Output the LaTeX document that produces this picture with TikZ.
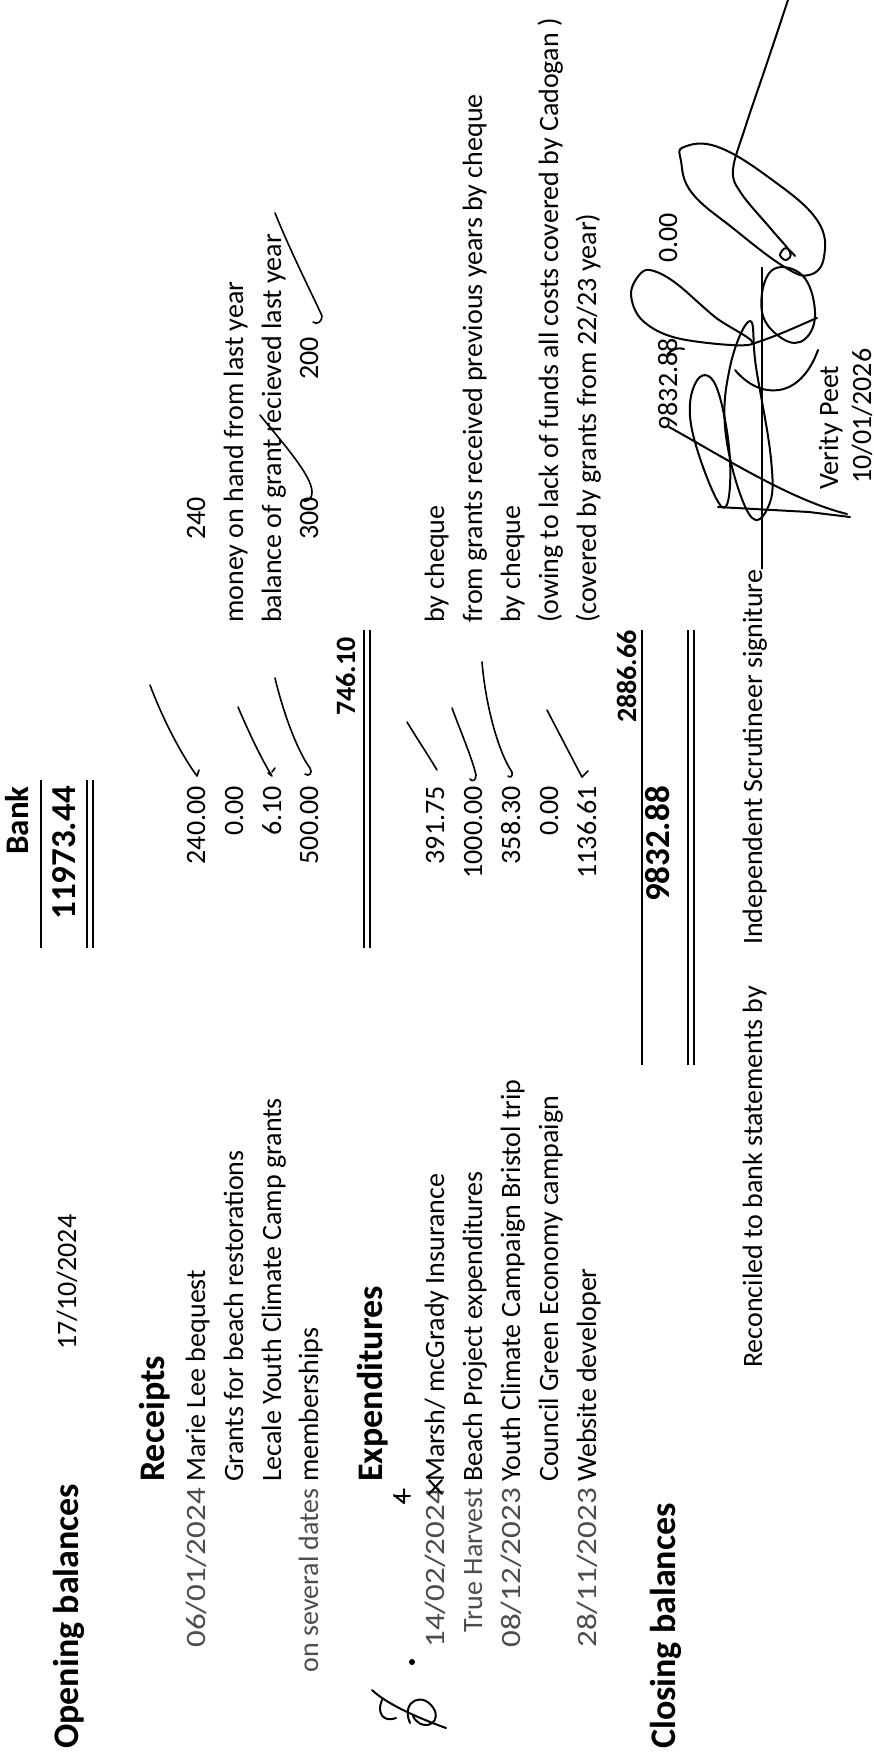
\documentclass[tikz,border=0pt]{standalone}
\usepackage{fontspec}
\setmainfont{Carlito}
\newfontfamily\datefont[FakeStretch=1.18]{Carlito}
\newcommand\bodysize{\fontsize{28}{30}\selectfont}
\begin{document}
\begin{tikzpicture}[x=1pt,y=-1pt,
  txt/.style={rotate=90, inner sep=0pt, font=\bodysize},
  L/.style={txt, anchor=base west},
  R/.style={txt, anchor=base east},
  dt/.style={R, font=\datefont\bodysize, text=black!70},
  lt/.style={R, font=\bodysize, text=black!70},
  hd/.style={rotate=90, inner sep=0pt, anchor=base west, font=\bfseries\fontsize{36}{38}\selectfont},
  tot/.style={rotate=90, inner sep=0pt, anchor=base east, font=\bfseries\fontsize{35}{37}\selectfont},
  sub/.style={R, font=\bfseries\bodysize},
  rule/.style={line width=2pt},
  tick/.style={line width=1.6pt, line cap=round, line join=round},
  ink/.style={line width=2pt, line cap=round, line join=round}]
\useasboundingbox (0,0) rectangle (874,1757);

% ---- opening ----
\node[hd] (ob) at (78,1749) {Opening balances};
\node[L] (obd) at (76,1350) {17/10/2024};
\node[R, font=\bfseries\fontsize{33}{35}\selectfont] (bank) at (28,786) {Bank};
\node[tot] (obamt) at (75,786) {11973.44};
\draw[rule] (41,780) -- (41,948);
\draw[rule] (87,780) -- (87,948);
\draw[rule] (93,780) -- (93,948);

% ---- receipts ----
\node[hd] (rc) at (164,1482) {Receipts};
\node[dt] (r1d) at (205,1488) {06/01/2024};
\node[L] (r1l) at (205,1482) {Marie Lee bequest};
\node[R] (r1n) at (205,786) {240.00};
\node[L] (r1x) at (205,540) {240};
\node[L] (r2l) at (243,1482) {Grants for beach restorations};
\node[R] (r2n) at (243,786) {0.00};
\node[L] (r2x) at (243,623) {money on hand from last year};
\node[L] (r3l) at (281,1482) {Lecale Youth Climate Camp grants};
\node[R] (r3n) at (281,786) {6.10};
\node[L] (r3x) at (281,623) {balance of grant recieved last year};
\node[lt] (r4d) at (318,1488) {on several dates};
\node[L] (r4l) at (318,1482) {memberships};
\node[R] (r4n) at (318,786) {500.00};
\node[L] (r4a) at (318,540) {300};
\node[L] (r4b) at (318,380) {200};
\node[sub] (rtot) at (355,637) {746.10};
\draw[rule] (364,630) -- (364,948);
\draw[rule] (370,630) -- (370,948);

% ---- expenditures ----
\node[hd] (ex) at (382,1482) {Expenditures};
\node[dt] (e1d) at (444,1488) {14/02/2024};
\node[L] (e1l) at (444,1482) {Marsh/ mcGrady Insurance};
\node[R] (e1n) at (444,786) {391.75};
\node[L] (e1x) at (444,623) {by cheque};
\node[lt] (e2d) at (482,1488) {True Harvest};
\node[L] (e2l) at (482,1482) {Beach Project expenditures};
\node[R] (e2n) at (482,786) {1000.00};
\node[L] (e2x) at (482,623) {from grants received previous years by cheque};
\node[dt] (e3d) at (520,1488) {08/12/2023};
\node[L] (e3l) at (520,1482) {Youth Climate Campaign Bristol trip};
\node[R] (e3n) at (520,786) {358.30};
\node[L] (e3x) at (520,623) {by cheque};
\node[L] (e4l) at (558,1482) {Council Green Economy campaign};
\node[R] (e4n) at (558,786) {0.00};
\node[L] (e4x) at (558,623) {(owing to lack of funds all costs covered by Cadogan )};
\node[dt] (e5d) at (596,1488) {28/11/2023};
\node[L] (e5l) at (596,1482) {Website developer};
\node[R] (e5n) at (596,786) {1136.61};
\node[L] (e5x) at (596,623) {(covered by grants from 22/23 year)};
\node[sub] (etot) at (636,630) {2886.66};
\draw[rule] (642,630) -- (642,1065);

% ---- closing ----
\node[hd] (cb) at (675,1749) {Closing balances};
\node[tot] (cbamt) at (669,786) {9832.88};
\draw[rule] (688,630) -- (688,1065);
\draw[rule] (694,630) -- (694,1065);

% ---- reconciliation ----
\node[L] (rec) at (762,1368) {Reconciled to bank statements by};
\node[L] (ind) at (762,945) {Independent Scrutineer signiture};
\coordinate (sigend) at (762,267);
\draw[line width=1.4pt] (ind.base east) -- (sigend);
\node[L] (vp) at (838,490) {Verity Peet};
\node[L] (vd) at (871,484) {10/01/2026};
\node[R] (s1) at (677,338) {9832.88};
\node[R] (s0) at (677,213) {0.00};

% ---- ticks ----
\draw[tick] (150,685) .. controls (165,725) and (185,760) .. (197,776) -- (199,770);
\draw[tick] (238,707) .. controls (250,735) and (262,760) .. (272,776) -- (268,773);
\draw[tick] (272,772) -- (275,768);
\draw[tick] (275,678) .. controls (285,720) and (300,755) .. (310,768) .. controls (313,773) and (309,777) .. (305,774);
\draw[tick] (260,415) .. controls (280,440) and (312,475) .. (312,492) .. controls (312,500) and (306,503) .. (302,500);
\draw[tick] (275,213) .. controls (292,255) and (315,300) .. (322,316) .. controls (322,322) and (317,325) .. (313,322);
\draw[tick] (407,722) .. controls (418,740) and (428,755) .. (437,770);
\draw[tick] (452,708) .. controls (462,735) and (472,758) .. (476,775) .. controls (476,781) and (472,782) .. (470,779);
\draw[tick] (482,662) .. controls (486,710) and (500,755) .. (512,772) .. controls (513,777) and (510,778) .. (508,776);
\draw[tick] (547,710) .. controls (560,735) and (573,760) .. (582,777) -- (588,771);

% ---- handwritten corrections ----
\draw[ink] (394,1495) -- (404,1503) -- (404,1489);
\draw[ink] (394,1496) -- (410,1496);
\draw[ink] (429,1480) -- (442,1494);
\draw[ink] (429,1494) -- (442,1480);

% ---- initials at left ----
\draw[ink] (372,1690) .. controls (389,1706) and (424,1720) .. (446,1728);
\draw[ink] (410,1723) .. controls (400,1700) and (425,1690) .. (435,1711) .. controls (440,1726) and (420,1731) .. (413,1716);
\draw[ink] (382,1700) .. controls (376,1713) and (384,1723) .. (396,1718);
\fill (412,1662) circle (3);

% ---- signature scribble ----
\draw[ink] plot[smooth, tension=0.6] coordinates {(788,0) (768,60) (745,128) (733,170) (741,193) (771,229) (790,252) (786,260) (780,255) (786,248) (795,256)};
\draw[ink] plot[smooth cycle, tension=0.7] coordinates {(684,147) (718,147) (771,179) (817,220) (824,257) (809,275) (783,266) (734,229) (692,193) (681,161)};
\draw[ink] plot[smooth cycle, tension=0.7] coordinates {(771,271) (802,275) (815,312) (805,339) (783,339) (762,312)};
\draw[ink] plot[smooth cycle, tension=0.6] coordinates {(641,273) (631,294) (643,321) (681,339) (752,344) (715,317) (677,284) (654,271)};
\draw[ink] plot[smooth cycle, tension=0.7] coordinates {(750,321) (730,367) (726,436) (749,514) (769,505) (771,459) (756,367)};
\draw[ink] plot[smooth cycle, tension=0.7] coordinates {(722,507) (692,430) (696,382) (716,386) (730,460)};
\draw[ink] (752,344) .. controls (780,335) and (800,325) .. (817,318);
\draw[ink] (735,370) .. controls (760,400) and (800,400) .. (818,350);
\draw[ink] (669,427) .. controls (720,455) and (790,500) .. (847,514);
\draw[ink] (718,507) -- (809,512) -- (850,517);
\draw[ink] (667,355) .. controls (672,349) and (678,347) .. (684,349);
\end{tikzpicture}
\end{document}
